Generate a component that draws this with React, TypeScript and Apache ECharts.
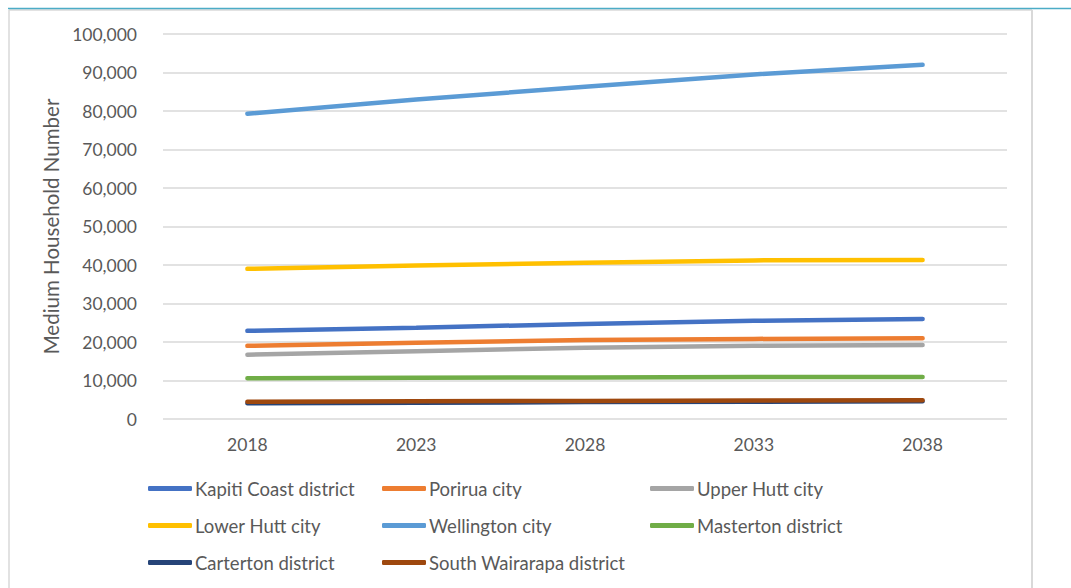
import React, { useEffect, useRef } from "react";
import * as echarts from "echarts";

const years = ["2018", "2023", "2028", "2033", "2038"];
const kapiti = [22900, 23700, 24700, 25500, 26000];
const porirua = [19000, 19800, 20500, 20800, 21000];
const upperHutt = [16700, 17600, 18500, 19000, 19200];
const lowerHutt = [39000, 39900, 40600, 41200, 41300];
const wellington = [79300, 83000, 86300, 89500, 92000];
const masterton = [10600, 10700, 10800, 10900, 10900];
const carterton = [4100, 4200, 4400, 4500, 4600];
const southWairarapa = [4500, 4600, 4700, 4800, 4900];

const seriesDefs = [
  { name: "Kapiti Coast district", data: kapiti, color: "#4472C4" },
  { name: "Porirua city", data: porirua, color: "#ED7D31" },
  { name: "Upper Hutt city", data: upperHutt, color: "#A5A5A5" },
  { name: "Lower Hutt city", data: lowerHutt, color: "#FFC000" },
  { name: "Wellington city", data: wellington, color: "#5B9BD5" },
  { name: "Masterton district", data: masterton, color: "#70AD47" },
  { name: "Carterton district", data: carterton, color: "#264478" },
  { name: "South Wairarapa district", data: southWairarapa, color: "#9E480E" },
];

const legendCol1 = ["Kapiti Coast district", "Lower Hutt city", "Carterton district"];
const legendCol2 = ["Porirua city", "Wellington city", "South Wairarapa district"];
const legendCol3 = ["Upper Hutt city", "Masterton district"];

const FONT = "Lato, 'Open Sans', sans-serif";
const TEXT = "#595959";

export default function App() {
  const ref = useRef<HTMLDivElement>(null);
  useEffect(() => {
    if (!ref.current) return;
    const chart = echarts.init(ref.current, undefined, { renderer: "svg" });
    const legendBase = (left: number, data: string[]) => ({
      orient: "vertical" as const,
      left,
      top: 479,
      padding: 0,
      data,
      icon: "roundRect",
      itemWidth: 44,
      itemHeight: 5,
      itemGap: 18,
      textStyle: { color: TEXT, fontSize: 18.5, fontFamily: FONT, padding: [0, 0, 0, -2] },
      selectedMode: false,
    });
    chart.setOption({
      animation: false,
      backgroundColor: "#ffffff",
      textStyle: { fontFamily: FONT },
      grid: { left: 163, right: 64, top: 34, bottom: 169 },
      legend: [legendBase(148, legendCol1), legendBase(382, legendCol2), legendBase(650, legendCol3)],
      xAxis: {
        type: "category",
        data: years,
        boundaryGap: true,
        axisLine: { show: false },
        axisTick: { show: false },
        axisLabel: { color: TEXT, fontSize: 17.5, fontFamily: FONT, margin: 16 },
      },
      yAxis: {
        type: "value",
        min: 0,
        max: 100000,
        interval: 10000,
        name: "Medium Household Number",
        nameLocation: "middle",
        nameGap: 100,
        nameRotate: 90,
        nameTextStyle: { color: TEXT, fontSize: 20.5, fontFamily: FONT },
        axisLine: { show: false },
        axisTick: { show: false },
        splitLine: { lineStyle: { color: "#d9d9d9", width: 1.5 } },
        axisLabel: {
          color: TEXT,
          fontSize: 17.5,
          fontFamily: FONT,
          margin: 26,
          formatter: (v: number) => v.toLocaleString("en-US"),
        },
      },
      graphic: [
        { type: "line", shape: { x1: 9, y1: 10, x2: 1032, y2: 10 }, style: { stroke: "#d9d9d9", lineWidth: 1.5 } },
        { type: "line", shape: { x1: 9, y1: 10, x2: 9, y2: 588 }, style: { stroke: "#d9d9d9", lineWidth: 1.5 } },
        { type: "line", shape: { x1: 1032, y1: 10, x2: 1032, y2: 588 }, style: { stroke: "#d9d9d9", lineWidth: 2 } },
        { type: "line", shape: { x1: 8, y1: 8.5, x2: 1071, y2: 8.5 }, style: { stroke: "#4BACC6", lineWidth: 1.5 } },
      ],
      series: seriesDefs.map((s) => ({
        name: s.name,
        type: "line",
        data: s.data,
        symbol: "none",
        color: s.color,
        lineStyle: { color: s.color, width: 4.5, cap: "round" },
        itemStyle: { color: s.color },
      })),
    });
    return () => chart.dispose();
  }, []);
  return <div ref={ref} style={{ position: "fixed", left: 0, top: 0, width: 1071, height: 588 }} />;
}
